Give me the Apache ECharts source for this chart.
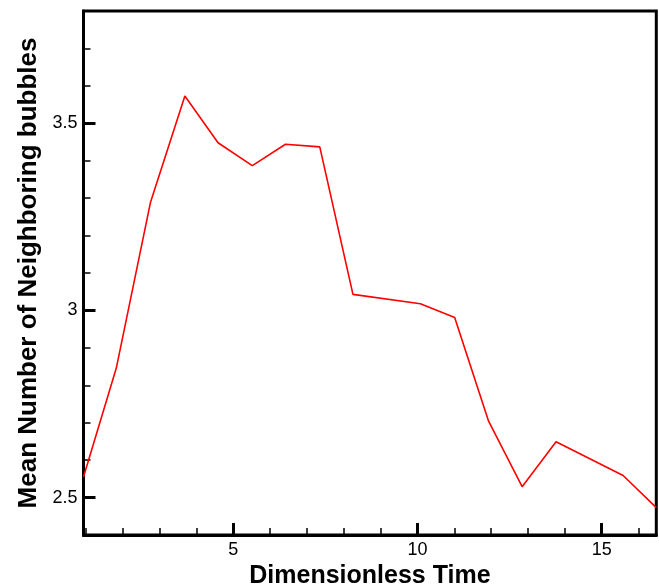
<!DOCTYPE html>
<html>
<head>
<meta charset="utf-8">
<script src="https://cdn.jsdelivr.net/npm/echarts@6/dist/echarts.min.js"></script>
<style>
  html, body { margin: 0; padding: 0; background: #fff; }
  #chart { width: 659px; height: 587px; }
</style>
</head>
<body>
<div id="chart"></div>
<script>
// Time samples (dimensionless) and mean neighbour counts
const timeValues = [0.94, 1.83, 2.76, 3.69, 4.59, 5.52, 6.42, 7.35, 8.25, 10.08, 11.01, 11.93, 12.84, 13.76, 15.58, 16.48];
const meanNeighbors = [2.555, 2.846, 3.29, 3.573, 3.448, 3.387, 3.444, 3.437, 3.043, 3.018, 2.981, 2.704, 2.529, 2.649, 2.559, 2.473];

// Axis ranges and ticks
const xRange = [0.94, 16.48];
const yRange = [2.4, 3.8];
const xMajorTicks = [5, 10, 15];
const xMinorTicks = [1, 2, 3, 4, 6, 7, 8, 9, 11, 12, 13, 14, 16];
const yMajorTicks = [2.5, 3, 3.5];
const yMinorTicks = [2.6, 2.7, 2.8, 2.9, 3.1, 3.2, 3.3, 3.4, 3.6, 3.7];

const FONT = 'Liberation Sans, Arial, Helvetica, sans-serif';

const chart = echarts.init(document.getElementById('chart'), null, { renderer: 'canvas' });

// Two axes share each side: one carries labels and long major ticks, the other short minor ticks
function xAxisDef(ticks, len, width, withLabels) {
  return {
    type: 'value', min: xRange[0], max: xRange[1], gridIndex: 0, position: 'bottom',
    name: withLabels ? 'Dimensionless Time' : '',
    nameLocation: 'middle', nameGap: 28,
    nameTextStyle: { fontFamily: FONT, fontWeight: 'bold', fontSize: 25, color: '#000' },
    axisLine: { show: withLabels, lineStyle: { color: '#000', width: 3 } },
    axisTick: { show: true, inside: true, length: len, customValues: ticks, lineStyle: { color: '#000', width: width } },
    axisLabel: { show: withLabels, customValues: xMajorTicks, margin: 6, fontFamily: FONT, fontSize: 18, color: '#000' },
    splitLine: { show: false }
  };
}

function yAxisDef(ticks, len, width, withLabels) {
  return {
    type: 'value', min: yRange[0], max: yRange[1], gridIndex: 0, position: 'left',
    name: withLabels ? 'Mean Number of Neighboring bubbles' : '',
    nameLocation: 'middle', nameGap: 42,
    nameTextStyle: { fontFamily: FONT, fontWeight: 'bold', fontSize: 26, color: '#000' },
    axisLine: { show: withLabels, lineStyle: { color: '#000', width: 3 } },
    axisTick: { show: true, inside: true, length: len, customValues: ticks, lineStyle: { color: '#000', width: width } },
    axisLabel: { show: withLabels, customValues: yMajorTicks, margin: 6, fontFamily: FONT, fontSize: 18, color: '#000' },
    splitLine: { show: false }
  };
}

chart.setOption({
  backgroundColor: '#fff',
  animation: false,
  grid: {
    left: 83.5, right: 2.7, top: 11, bottom: 52,
    outerBoundsMode: 'none', containLabel: false,
    show: true, borderColor: '#000', borderWidth: 3, backgroundColor: 'transparent'
  },
  xAxis: [
    xAxisDef(xMajorTicks, 12, 3, true),
    xAxisDef(xMinorTicks, 7, 1.5, false)
  ],
  yAxis: [
    yAxisDef(yMajorTicks, 12, 3, true),
    yAxisDef(yMinorTicks, 7, 1.5, false)
  ],
  series: [{
    type: 'line',
    xAxisIndex: 0, yAxisIndex: 0,
    data: timeValues.map((t, i) => [t, meanNeighbors[i]]),
    showSymbol: false,
    lineStyle: { color: '#ff0000', width: 1.6 },
    clip: true
  }]
});
</script>
</body>
</html>
